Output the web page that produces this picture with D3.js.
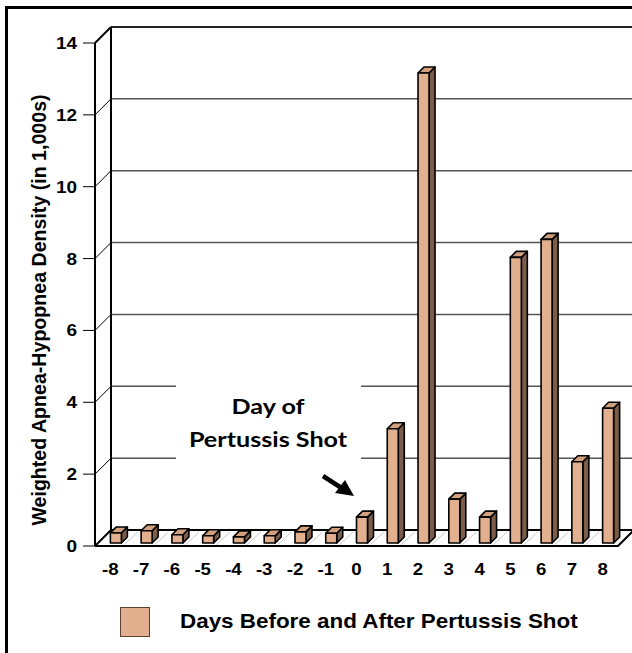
<!DOCTYPE html>
<html><head><meta charset="utf-8">
<script src="https://cdn.jsdelivr.net/npm/d3@7"></script>
<style>html,body{margin:0;padding:0;background:#fff;}svg{display:block;}</style>
</head><body>
<script>
const categories = ["-8","-7","-6","-5","-4","-3","-2","-1","0","1","2","3","4","5","6","7","8"];
const values = [0.28,0.34,0.23,0.2,0.17,0.2,0.31,0.27,0.72,3.18,13.08,1.22,0.72,7.95,8.45,2.26,3.75];
const yTicks = [0,2,4,6,8,10,12,14];
const yTitle = "Weighted Apnea-Hypopnea Density (in 1,000s)";
const legendLabel = "Days Before and After Pertussis Shot";
const noteLines = ["Day of","Pertussis Shot"];

const W = 632, H = 653;
const DX = 16, DY = -16;      // wall depth
const BD = 6;                 // bar depth
const SX = 1.13;              // horizontal stretch of the original picture's text
const svg = d3.select("body").append("svg").attr("width", W).attr("height", H);
const font = "Arial, 'Liberation Sans', Helvetica, sans-serif";

const x = d3.scaleBand().domain(categories).range([95, 618]).paddingInner(0).paddingOuter(0);
const y = d3.scaleLinear().domain([0,14]).range([546, 43]);
const yb = v => y(v) - 3;

function stext(px, py, sx, txt, size, anchor, fam) {
  return svg.append("text").attr("transform", `translate(${px},${py}) scale(${sx},1)`)
    .attr("text-anchor", anchor).attr("font-family", fam || font).attr("font-weight", "bold")
    .attr("font-size", size).text(txt);
}

// outer border (left and top)
svg.append("path").attr("d", `M6.5,${H} L6.5,7.5 L${W},7.5`).attr("fill","none").attr("stroke","#000").attr("stroke-width",3);

// wall gridlines
const g = svg.append("g");
yTicks.filter(t => t > 0).forEach(t => {
  g.append("line").attr("x1", 95 + DX).attr("x2", W).attr("y1", y(t) + DY).attr("y2", y(t) + DY)
    .attr("stroke", t === 14 ? "#222" : "#555").attr("stroke-width", t === 14 ? 2 : 1.5);
  g.append("line").attr("x1", 95).attr("y1", y(t)).attr("x2", 95 + DX).attr("y2", y(t) + DY)
    .attr("stroke", "#000").attr("stroke-width", 1);
});

// annotation background box
svg.append("rect").attr("x", 176).attr("y", 378).attr("width", 185).attr("height", 92).attr("fill", "#fff");

// floor
const fx0 = 95, fx1 = 618, fy = y(0);
categories.forEach((c, i) => {
  const bx = x(c);
  if (i > 0) svg.append("line").attr("x1", bx - 2).attr("y1", fy - 1).attr("x2", bx + DX - 4).attr("y2", fy + DY + 2)
    .attr("stroke", "#c8c8c8").attr("stroke-width", 1);
});
svg.append("path").attr("d", `M${fx0},${fy} L${fx1},${fy} L${fx1+DX},${fy+DY} M${fx0},${fy} L${fx0+DX},${fy+DY} L${fx1+DX},${fy+DY}`)
  .attr("fill", "none").attr("stroke", "#000").attr("stroke-width", 2).attr("stroke-linejoin","round");

// back wall left edge
svg.append("line").attr("x1", 95 + DX).attr("x2", 95 + DX).attr("y1", y(0) + DY).attr("y2", y(14) + DY)
  .attr("stroke", "#000").attr("stroke-width", 2);

// bars
const bw = 11;
const bars = svg.append("g");
categories.forEach((c, i) => {
  const cx = x(c) + x.bandwidth() / 2;
  const x0 = cx, x1 = cx + bw, yt = yb(values[i]), y0 = yb(0);
  const s = bars.append("g").attr("stroke", "#000").attr("stroke-width", 1.6).attr("stroke-linejoin", "round");
  s.append("path").attr("d", `M${x1},${y0} L${x1+BD},${y0-BD} L${x1+BD},${yt-BD} L${x1},${yt} Z`).attr("fill", "#7b5d49");
  s.append("path").attr("d", `M${x0},${yt} L${x0+BD},${yt-BD} L${x1+BD},${yt-BD} L${x1},${yt} Z`).attr("fill", "#d2a07e");
  s.append("rect").attr("x", x0).attr("y", yt).attr("width", bw).attr("height", y0 - yt).attr("fill", "#e3b08f");
});

// front y axis
svg.append("line").attr("x1", 95).attr("x2", 95).attr("y1", y(0)).attr("y2", y(14)).attr("stroke", "#000").attr("stroke-width", 2);
svg.append("line").attr("x1", 95).attr("y1", y(14)).attr("x2", 95 + DX).attr("y2", y(14) + DY).attr("stroke", "#000").attr("stroke-width", 2);
yTicks.forEach(t => {
  svg.append("line").attr("x1", 83).attr("x2", 95).attr("y1", y(t)).attr("y2", y(t)).attr("stroke", "#000").attr("stroke-width", 1);
  stext(77, y(t) + 6, SX, t, 16.8, "end");
});

// x labels
categories.forEach(c => {
  stext(x(c) + x.bandwidth() / 2, 575, SX, c, 16.5, "middle");
});

// y title
svg.append("text").attr("transform", "translate(46,310) rotate(-90)").attr("text-anchor", "middle")
  .attr("font-family", font).attr("font-weight", "bold").attr("font-size", 19.6).text(yTitle);

// annotation
const noteFont = "Lato, 'Open Sans', sans-serif";
stext(268, 414, 1.17, noteLines[0], 21.5, "middle", noteFont);
stext(268, 447, 1.17, noteLines[1], 21.5, "middle", noteFont);
// arrow
svg.append("line").attr("x1", 323).attr("y1", 476).attr("x2", 343).attr("y2", 489).attr("stroke", "#000").attr("stroke-width", 4.5);
svg.append("path").attr("d", "M354,496 L335,493 L345,480 Z").attr("fill", "#000");

// legend
svg.append("rect").attr("x", 120.5).attr("y", 607.5).attr("width", 29).attr("height", 29)
  .attr("fill", "#e3b08f").attr("stroke", "#5a4030").attr("stroke-width", 1);
stext(180, 628, 1.15, legendLabel, 19.5, "start");
</script>
</body></html>
